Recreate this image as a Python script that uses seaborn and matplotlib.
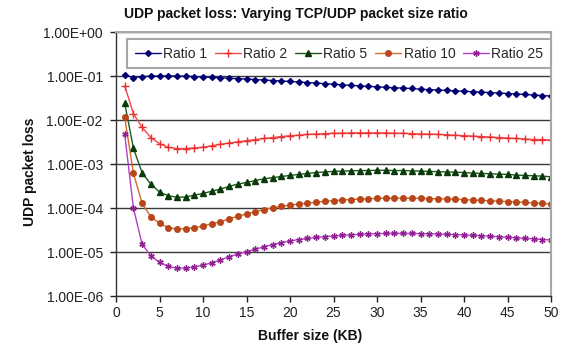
import matplotlib
matplotlib.use("Agg")
import matplotlib.pyplot as plt
import matplotlib.ticker as mticker
import numpy as np
import pandas as pd
import seaborn as sns

# Buffer sizes (KB) and measured UDP packet loss for each TCP/UDP size ratio
buffer_kb = list(range(1, 51))

ratio_1 = [0.105, 0.092, 0.097, 0.099, 0.100, 0.100, 0.100, 0.099, 0.097, 0.095,
           0.093, 0.091, 0.089, 0.087, 0.085, 0.083, 0.081, 0.079, 0.077, 0.075,
           0.073, 0.071, 0.069, 0.067, 0.065, 0.063, 0.061, 0.060, 0.058, 0.057,
           0.055, 0.054, 0.053, 0.052, 0.050, 0.049, 0.048, 0.047, 0.046, 0.045,
           0.044, 0.043, 0.042, 0.041, 0.040, 0.039, 0.038, 0.037, 0.036, 0.035]

ratio_2 = [0.060, 0.0140, 0.0068, 0.0040, 0.0029, 0.0024, 0.00225, 0.00225, 0.00232, 0.0024,
           0.0026, 0.0028, 0.0030, 0.0032, 0.0034, 0.0036, 0.0038, 0.0040, 0.0042, 0.0044,
           0.0045, 0.0047, 0.0048, 0.0049, 0.0050, 0.0050, 0.0051, 0.0051, 0.0051, 0.0051,
           0.0051, 0.0050, 0.0050, 0.0049, 0.0048, 0.0048, 0.0047, 0.0046, 0.0045, 0.0044,
           0.0043, 0.0042, 0.0041, 0.0040, 0.0039, 0.0038, 0.0037, 0.0036, 0.0036, 0.0035]

ratio_5 = [0.024, 0.0023, 0.00063, 0.00035, 0.00023, 0.00019, 0.000175, 0.000178, 0.000195, 0.000215,
           0.00024, 0.00027, 0.00031, 0.00035, 0.00038, 0.00042, 0.00046, 0.00049, 0.00052, 0.00055,
           0.00058, 0.00061, 0.00064, 0.00066, 0.00068, 0.00069, 0.00070, 0.00071, 0.00071, 0.00072,
           0.00072, 0.00071, 0.00071, 0.00070, 0.00069, 0.00068, 0.00067, 0.00066, 0.00065, 0.00064,
           0.00062, 0.00061, 0.00060, 0.00059, 0.00058, 0.00056, 0.00055, 0.00054, 0.00053, 0.00051]

ratio_10 = [0.0115, 0.00062, 0.000128, 0.000063, 0.000045, 0.000036, 0.000033, 0.000034, 0.0000355, 0.000039,
            0.000044, 0.000049, 0.000056, 0.000065, 0.000073, 0.000082, 0.000092, 0.000101, 0.000109, 0.000116,
            0.000123, 0.000129, 0.000136, 0.000142, 0.000147, 0.000152, 0.000156, 0.000160, 0.000163, 0.000165,
            0.000167, 0.000168, 0.000168, 0.000167, 0.000166, 0.000164, 0.000162, 0.000160, 0.000158, 0.000155,
            0.000152, 0.000149, 0.000146, 0.000143, 0.000140, 0.000137, 0.000134, 0.000130, 0.000127, 0.000123]

ratio_25 = [0.0047, 0.00010, 0.000015, 0.0000082, 0.0000058, 0.0000047, 0.0000043, 0.0000043, 0.0000046, 0.0000050,
            0.0000057, 0.0000066, 0.0000078, 0.0000090, 0.0000102, 0.0000116, 0.0000131, 0.0000147, 0.0000163, 0.0000178,
            0.0000192, 0.0000203, 0.0000214, 0.0000223, 0.0000231, 0.0000239, 0.0000246, 0.0000252, 0.0000257, 0.0000261,
            0.0000264, 0.0000265, 0.0000265, 0.0000264, 0.0000262, 0.0000259, 0.0000256, 0.0000252, 0.0000248, 0.0000244,
            0.0000239, 0.0000234, 0.0000228, 0.0000222, 0.0000216, 0.0000210, 0.0000204, 0.0000198, 0.0000192, 0.0000187]

series_names = ["Ratio 1", "Ratio 2", "Ratio 5", "Ratio 10", "Ratio 25"]
series_values = [ratio_1, ratio_2, ratio_5, ratio_10, ratio_25]

x_ticks = list(range(0, 51, 5))
y_ticks = [1e0, 1e-1, 1e-2, 1e-3, 1e-4, 1e-5, 1e-6]

df = pd.concat(
    [pd.DataFrame({"Buffer size (KB)": buffer_kb, "loss": vals, "series": name})
     for name, vals in zip(series_names, series_values)],
    ignore_index=True,
)

line_colors = {"Ratio 1": "#0A0A80", "Ratio 2": "#F04848", "Ratio 5": "#1E5A1E",
               "Ratio 10": "#D06A2A", "Ratio 25": "#B040C8"}
marker_colors = {"Ratio 1": "#000070", "Ratio 2": "#E83030", "Ratio 5": "#0A3A0A",
                 "Ratio 10": "#B8461A", "Ratio 25": "#902090"}
markers = {"Ratio 1": "D", "Ratio 2": "+", "Ratio 5": "^",
           "Ratio 10": "o", "Ratio 25": (6, 2, 0)}
marker_sizes = {"Ratio 1": 3.0, "Ratio 2": 5.5, "Ratio 5": 3.8,
                "Ratio 10": 4.0, "Ratio 25": 4.5}

sns.set_style("white")
plt.rcParams["font.family"] = ["Liberation Sans", "DejaVu Sans"]

fig = plt.figure(figsize=(5.76, 3.51), dpi=100)
ax = fig.add_axes([116 / 576, 1 - 296 / 351, 435 / 576, 264 / 351])

handles = []
for name in series_names:
    sub = df[df["series"] == name]
    sns.lineplot(data=sub, x="Buffer size (KB)", y="loss", ax=ax,
                 color=line_colors[name], linewidth=1.0, legend=False)
    line = ax.lines[-1]
    line.set_marker(markers[name])
    line.set_markersize(marker_sizes[name])
    line.set_markerfacecolor(marker_colors[name])
    line.set_markeredgecolor(marker_colors[name])
    line.set_markeredgewidth(1.0)
    line.set_label(name)
    handles.append(line)

ax.set_yscale("log")
ax.set_xlim(0, 50)
ax.set_ylim(1e-6, 1e0)
ax.set_xticks(x_ticks)
ax.set_yticks(y_ticks)
ax.yaxis.set_minor_locator(mticker.NullLocator())
ax.yaxis.set_major_formatter(mticker.FuncFormatter(lambda v, p: format(v, ".2E")))
ax.tick_params(axis="both", which="major", labelsize=10, colors="#222222",
               length=4, width=1, direction="out", left=True, bottom=True)
ax.tick_params(axis="y", pad=5.5)
ax.tick_params(axis="x", pad=3)
ax.set_xlabel("")
ax.set_ylabel("")

ax.grid(True, axis="y", color="#3A3A3A", linewidth=1.0)
ax.grid(False, axis="x")
for side in ["left", "bottom"]:
    ax.spines[side].set_color("#333333")
    ax.spines[side].set_linewidth(1.0)
for side in ["top", "right"]:
    ax.spines[side].set_color("#A8A8A8")
    ax.spines[side].set_linewidth(1.5)

leg = ax.legend(handles=handles, labels=series_names, ncol=5, loc="lower left",
                bbox_to_anchor=(0.025, 0.862, 0.975, 0.128), mode="expand",
                frameon=True, fancybox=False, fontsize=10, handlelength=1.9,
                handletextpad=0.15, columnspacing=0.5, borderpad=0.55,
                borderaxespad=0.0)
leg.get_frame().set_edgecolor("#A8A8A8")
leg.get_frame().set_linewidth(1.5)
leg.get_frame().set_facecolor("white")
leg.get_frame().set_alpha(1.0)

fig.text(296 / 576, 1 - 14 / 351, "UDP packet loss: Varying TCP/UDP packet size ratio",
         ha="center", va="center", fontsize=10, fontweight="bold", color="#111111")
fig.text(310 / 576, 1 - 336 / 351, "Buffer size (KB)", ha="center", va="center",
         fontsize=10, fontweight="bold", color="#111111")
fig.text(30 / 576, 1 - 172 / 351, "UDP packet loss", ha="center", va="center",
         rotation=90, fontsize=10, fontweight="bold", color="#111111")

fig.savefig("out.png", dpi=100, facecolor="white")
